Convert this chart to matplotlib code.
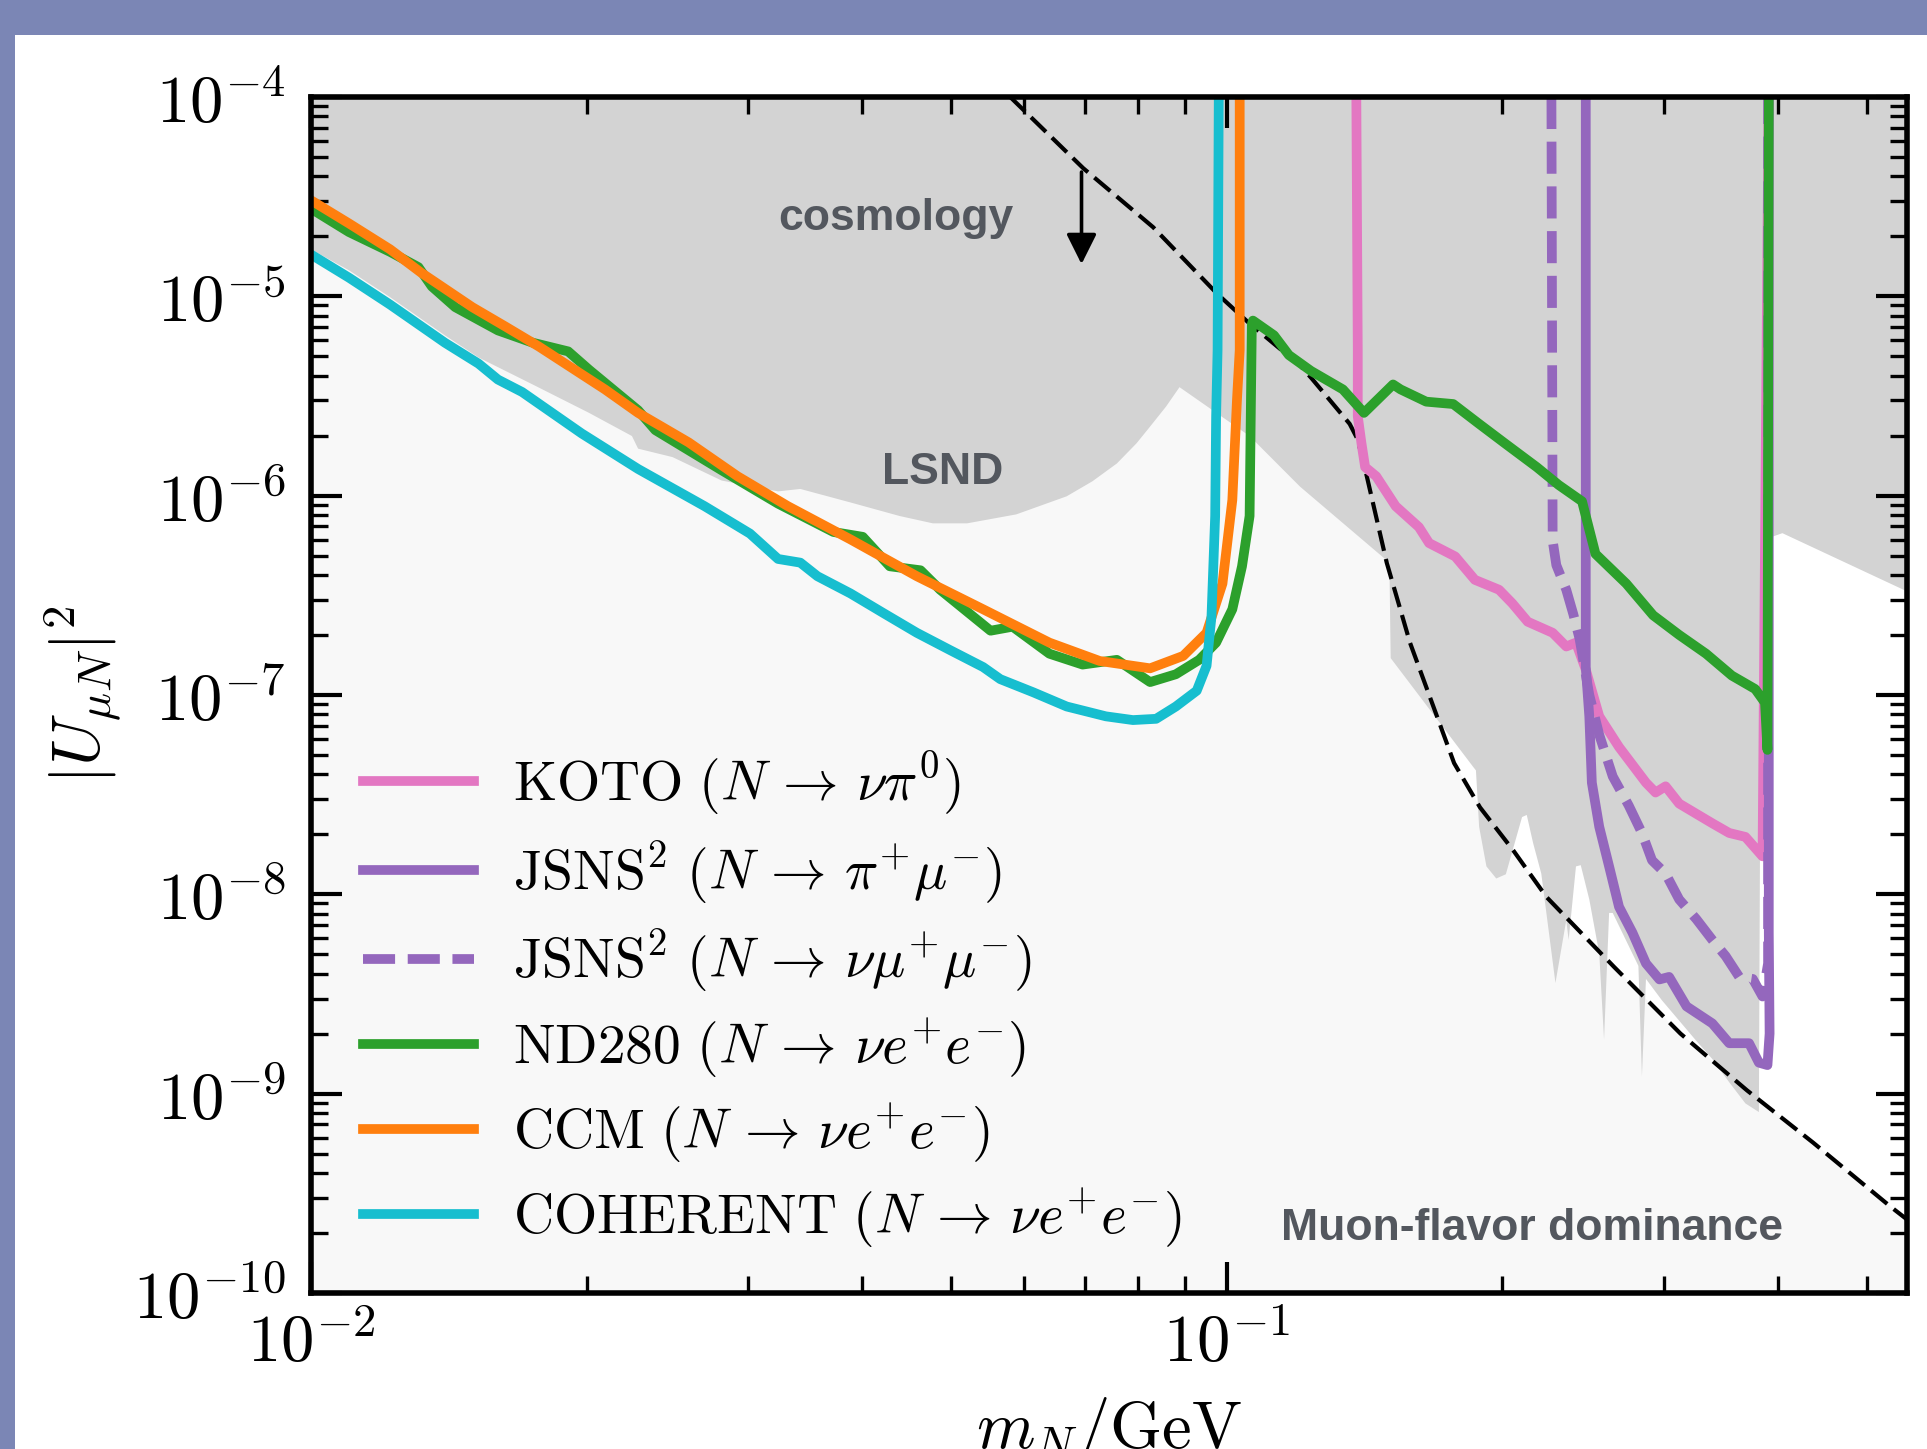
import numpy as np
import matplotlib
matplotlib.use('Agg')
import matplotlib.pyplot as plt
from matplotlib.patches import Rectangle
from matplotlib.ticker import LogLocator, FuncFormatter, NullFormatter

plt.rcParams['mathtext.fontset'] = 'cm'

# m_N in GeV, |U_muN|^2
koto_m = [0.1385, 0.1390, 0.1390, 0.1403, 0.1416, 0.1456, 0.1529, 0.1621, 0.1663, 0.1776,
          0.1866, 0.1983, 0.2050, 0.2131, 0.2269, 0.2348, 0.2406, 0.2466, 0.2551, 0.2681,
          0.2869, 0.2939, 0.3014, 0.3119, 0.3390, 0.3537, 0.3684, 0.3846, 0.3905]
koto_u = [1e-4, 5.4e-6, 2.5e-6, 1.83e-6, 1.39e-6, 1.25e-6, 8.85e-7, 6.95e-7, 5.78e-7, 4.95e-7,
          3.78e-7, 3.37e-7, 2.88e-7, 2.33e-7, 2.05e-7, 1.75e-7, 1.83e-7, 1.34e-7, 7.81e-8, 5.48e-8,
          3.63e-8, 3.24e-8, 3.48e-8, 2.85e-8, 2.27e-8, 2.03e-8, 1.94e-8, 1.55e-8, 1e-4]

jsns_pimu_m = [0.2466, 0.2466, 0.2488, 0.2504, 0.2551, 0.2615, 0.2681, 0.2773, 0.2869, 0.2968,
               0.3041, 0.3177, 0.3390, 0.3537, 0.3718, 0.3811, 0.3894, 0.3915, 0.3907, 0.3907]
jsns_pimu_u = [1e-4, 1.38e-7, 7.81e-8, 3.63e-8, 2.18e-8, 1.38e-8, 8.65e-9, 6.42e-9, 4.50e-9, 3.74e-9,
               3.85e-9, 2.74e-9, 2.25e-9, 1.79e-9, 1.79e-9, 1.43e-9, 1.39e-9, 2.0e-9, 6.4e-9, 1e-4]

jsns_mumu_m = [0.2262, 0.2269, 0.2290, 0.2348, 0.2390, 0.2428, 0.2488, 0.2551, 0.2639, 0.2747,
               0.2840, 0.2913, 0.3014, 0.3119, 0.3256, 0.3390, 0.3505, 0.3627, 0.3753, 0.3846,
               0.3900, 0.3900]
jsns_mumu_u = [1e-4, 5.95e-7, 4.48e-7, 3.37e-7, 2.54e-7, 1.91e-7, 1.0e-7, 6.31e-8, 3.90e-8, 2.79e-8,
               2.03e-8, 1.48e-8, 1.27e-8, 9.42e-9, 7.51e-9, 5.90e-9, 4.90e-9, 3.85e-9, 3.76e-9, 3.07e-9,
               4.5e-9, 1e-4]

nd280_m = [0.0100, 0.0110, 0.0122, 0.0131, 0.01355, 0.01437, 0.0160, 0.01746, 0.01909, 0.02012,
           0.02276, 0.02377, 0.02808, 0.03236, 0.03719, 0.04004, 0.04285, 0.0463, 0.04864, 0.05521,
           0.05836, 0.06402, 0.06959, 0.07586, 0.08246, 0.08798, 0.09329, 0.09735, 0.1014, 0.1039,
           0.1059, 0.1065, 0.1068, 0.1126, 0.1169, 0.1236, 0.1339, 0.1412, 0.1519, 0.1548,
           0.1651, 0.1767, 0.1886, 0.2012, 0.2180, 0.2304, 0.2443, 0.2527, 0.2730, 0.2921,
           0.3119, 0.3337, 0.3561, 0.3776, 0.3870, 0.3894, 0.3907]
nd280_u = [2.75e-5, 2.10e-5, 1.67e-5, 1.40e-5, 1.12e-5, 8.82e-6, 6.74e-6, 5.85e-6, 5.29e-6, 4.28e-6,
           2.68e-6, 2.13e-6, 1.34e-6, 9.11e-7, 6.57e-7, 6.21e-7, 4.42e-7, 4.22e-7, 3.37e-7, 2.10e-7,
           2.20e-7, 1.61e-7, 1.42e-7, 1.50e-7, 1.16e-7, 1.27e-7, 1.50e-7, 1.83e-7, 2.69e-7, 4.42e-7,
           7.90e-7, 7.24e-6, 7.55e-6, 6.37e-6, 5.07e-6, 4.22e-6, 3.41e-6, 2.60e-6, 3.61e-6, 3.41e-6,
           2.96e-6, 2.88e-6, 2.29e-6, 1.83e-6, 1.39e-6, 1.13e-6, 9.36e-7, 5.10e-7, 3.62e-7, 2.51e-7,
           2.00e-7, 1.61e-7, 1.25e-7, 1.07e-7, 9.14e-8, 5.30e-8, 1e-4]

ccm_m = [0.0100, 0.0110, 0.0122, 0.0132, 0.0150, 0.01632, 0.01773, 0.02094, 0.02276, 0.02584,
         0.02923, 0.03317, 0.03882, 0.04587, 0.05419, 0.06402, 0.07265, 0.08246, 0.08962, 0.09504,
         0.09892, 0.1014, 0.1026, 0.1033, 0.1033]
ccm_u = [3.03e-5, 2.32e-5, 1.72e-5, 1.31e-5, 8.82e-6, 7.03e-6, 5.60e-6, 3.41e-6, 2.60e-6, 1.85e-6,
         1.25e-6, 8.85e-7, 6.03e-7, 3.94e-7, 2.69e-7, 1.83e-7, 1.48e-7, 1.36e-7, 1.57e-7, 2.05e-7,
         3.62e-7, 9.50e-7, 3.04e-6, 5.37e-6, 1e-4]

coherent_m = [0.0100, 0.0110, 0.0122, 0.0140, 0.01524, 0.0160, 0.0170, 0.01975, 0.02276, 0.0269,
              0.03015, 0.03236, 0.03422, 0.03573, 0.03882, 0.0422, 0.04587, 0.04985, 0.05419, 0.05658,
              0.0615, 0.06686, 0.07379, 0.07898, 0.08372, 0.08798, 0.09272, 0.09504, 0.09622, 0.09712,
              0.09735, 0.09771, 0.0980]
coherent_u = [1.62e-5, 1.24e-5, 9.08e-6, 5.85e-6, 4.59e-6, 3.82e-6, 3.31e-6, 2.05e-6, 1.36e-6, 8.85e-7,
              6.45e-7, 4.81e-7, 4.61e-7, 3.94e-7, 3.23e-7, 2.57e-7, 2.05e-7, 1.68e-7, 1.38e-7, 1.20e-7,
              1.03e-7, 8.75e-8, 7.81e-8, 7.48e-8, 7.59e-8, 8.75e-8, 1.05e-7, 1.40e-7, 2.47e-7, 7.90e-7,
              2.5e-6, 5.37e-6, 1e-4]

# muon-flavor dominance boundary (black dashed)
dom_m = [0.0580, 0.0697, 0.0831, 0.0976, 0.1054, 0.1204, 0.1238, 0.1362, 0.1390, 0.1422,
         0.1495, 0.1585, 0.1681, 0.1771, 0.1890, 0.2055, 0.2234, 0.2648, 0.3129, 0.3697,
         0.4369, 0.5306, 0.5542]
dom_u = [1.0e-4, 4.39e-5, 2.22e-5, 1.03e-5, 7.44e-6, 4.47e-6, 3.87e-6, 2.29e-6, 1.91e-6, 1.25e-6,
         4.61e-7, 1.83e-7, 8.75e-8, 4.55e-8, 2.73e-8, 1.66e-8, 9.69e-9, 4.32e-9, 2.00e-9, 1.04e-9,
         5.67e-10, 2.71e-10, 2.32e-10]

# lower edge of the existing exclusions (grey)
excl_m = [0.0100, 0.0110, 0.0122, 0.0140, 0.01524, 0.01746, 0.02012, 0.02241, 0.02276, 0.02482,
          0.02808, 0.03236, 0.03422, 0.03882, 0.04393, 0.04775, 0.05206, 0.0589, 0.06686, 0.07133,
          0.07586, 0.0797, 0.08246, 0.08585, 0.08879, 0.1059, 0.1202, 0.1505, 0.1510, 0.1857,
          0.1871, 0.1886, 0.1921, 0.1969, 0.2017, 0.2101, 0.2126, 0.2160, 0.2205, 0.2285,
          0.2348, 0.2362, 0.2406, 0.2435, 0.2488, 0.2551, 0.2582, 0.2615, 0.2639, 0.2815,
          0.2840, 0.2869, 0.2986, 0.3246, 0.3390, 0.3537, 0.3684, 0.3811, 0.3834, 0.4043,
          0.5521, 0.56]
excl_u = [1.72e-5, 1.35e-5, 9.89e-6, 6.37e-6, 4.93e-6, 3.61e-6, 2.60e-6, 1.99e-6, 1.72e-6, 1.56e-6,
          1.19e-6, 1.05e-6, 1.08e-6, 9.24e-7, 7.90e-7, 7.26e-7, 7.26e-7, 8.05e-7, 9.92e-7, 1.18e-6,
          1.45e-6, 1.83e-6, 2.22e-6, 2.80e-6, 3.50e-6, 1.99e-6, 1.11e-6, 4.61e-7, 1.53e-7, 4.37e-8,
          4.18e-8, 2.18e-8, 1.38e-8, 1.20e-8, 1.26e-8, 2.44e-8, 2.50e-8, 1.81e-8, 1.27e-8, 3.59e-9,
          7.42e-9, 5.90e-9, 1.38e-8, 1.40e-8, 9.42e-9, 5.05e-9, 1.87e-9, 8.06e-9, 8.06e-9, 4.37e-9,
          1.22e-9, 3.76e-9, 2.94e-9, 1.87e-9, 1.49e-9, 1.14e-9, 8.93e-10, 8.08e-10, 5.95e-7, 6.48e-7,
          3.32e-7, 3.25e-7]

xmin, xmax = 0.01, 0.553
ymin, ymax = 1e-10, 1e-4

fig = plt.figure(figsize=(9.635, 7.245), dpi=200)
fig.patch.set_facecolor('#7b86b5')
fig.add_artist(Rectangle((15 / 1927, 0), 1, 1 - 35 / 1449, transform=fig.transFigure,
                         facecolor='white', edgecolor='none', zorder=-5))
ax = fig.add_axes([0.1614, 0.1077, 0.8282, 0.8254])
ax.set_xscale('log')
ax.set_yscale('log')
ax.set_xlim(xmin, xmax)
ax.set_ylim(ymin, ymax)

# regions
ax.fill_between(np.r_[xmin, dom_m], 1e-11, np.r_[ymax, dom_u], color='#f8f8f8', lw=0, zorder=0)
ax.fill(np.r_[excl_m, excl_m[-1], excl_m[0]], np.r_[excl_u, ymax, ymax],
        color='#d3d3d3', lw=0, zorder=1)
ax.plot(dom_m, dom_u, color='k', lw=1.5, ls=(0, (5, 2)), zorder=2)

lw = 3.5
ax.plot(koto_m, koto_u, color='#e377c2', lw=lw, zorder=3,
        label=r'$\mathrm{KOTO}\ (N\,\to\,\nu\pi^{0})$')
ax.plot(jsns_pimu_m, jsns_pimu_u, color='#9467bd', lw=lw, zorder=3,
        label=r'$\mathrm{JSNS}^{2}\ (N\,\to\,\pi^{+}\mu^{-})$')
ax.plot(jsns_mumu_m, jsns_mumu_u, color='#9467bd', lw=lw, ls=(0, (3.3, 1.3)), zorder=3,
        label=r'$\mathrm{JSNS}^{2}\ (N\,\to\,\nu\mu^{+}\mu^{-})$')
ax.plot(nd280_m, nd280_u, color='#2ca02c', lw=lw, zorder=3,
        label=r'$\mathrm{ND280}\ (N\,\to\,\nu e^{+}e^{-})$')
ax.plot(ccm_m, ccm_u, color='#ff7f0e', lw=lw, zorder=3,
        label=r'$\mathrm{CCM}\ (N\,\to\,\nu e^{+}e^{-})$')
ax.plot(coherent_m, coherent_u, color='#17becf', lw=lw, zorder=3,
        label=r'$\mathrm{COHERENT}\ (N\,\to\,\nu e^{+}e^{-})$')

# annotations
txt = dict(fontsize=16, fontweight='bold', family='Liberation Sans', color='#53575e',
           ha='center', va='baseline', zorder=4)
ax.text(0.04356, 2.16e-5, 'cosmology', **txt)
ax.text(0.04894, 1.15e-6, 'LSND', **txt)
ax.text(0.2153, 1.84e-10, 'Muon-flavor dominance', **txt)
ax.annotate('', xy=(0.0694, 1.45e-5), xytext=(0.0694, 4.2e-5),
            arrowprops=dict(arrowstyle='-|>', color='k', lw=1.3, mutation_scale=23,
                            shrinkA=0, shrinkB=0), zorder=5)

# axes styling
for s in ax.spines.values():
    s.set_linewidth(2)
    s.set_zorder(6)
ax.xaxis.set_major_locator(LogLocator(base=10, numticks=20))
ax.xaxis.set_minor_locator(LogLocator(base=10, subs=np.arange(2, 10), numticks=20))
ax.yaxis.set_major_locator(LogLocator(base=10, numticks=20))
ax.yaxis.set_minor_locator(LogLocator(base=10, subs=np.arange(2, 10), numticks=20))
fmt = FuncFormatter(lambda v, pos: r'$10^{%d}$' % int(round(np.log10(v))))
ax.xaxis.set_major_formatter(fmt)
ax.yaxis.set_major_formatter(fmt)
ax.xaxis.set_minor_formatter(NullFormatter())
ax.yaxis.set_minor_formatter(NullFormatter())
ax.tick_params(which='both', direction='in', top=True, right=True, labelsize=24)
ax.tick_params(which='major', length=11, width=1.5)
ax.tick_params(which='minor', length=6, width=1.2)
ax.tick_params(axis='y', pad=9)
ax.tick_params(axis='x', pad=6)

ax.set_xlabel(r'$m_N/\mathrm{GeV}$', fontsize=24)
ax.set_ylabel(r'$|U_{\mu N}|^2$', fontsize=24)
ax.xaxis.set_label_coords(0.5, -0.085)
ax.yaxis.set_label_coords(-0.117, 0.5)

ax.legend(loc='lower left', bbox_to_anchor=(0.0326, 0.036), frameon=False, fontsize=20,
          handlelength=2.0, handletextpad=0.7, labelspacing=0.38, borderpad=0, borderaxespad=0)

fig.savefig('out.png', dpi=200)
